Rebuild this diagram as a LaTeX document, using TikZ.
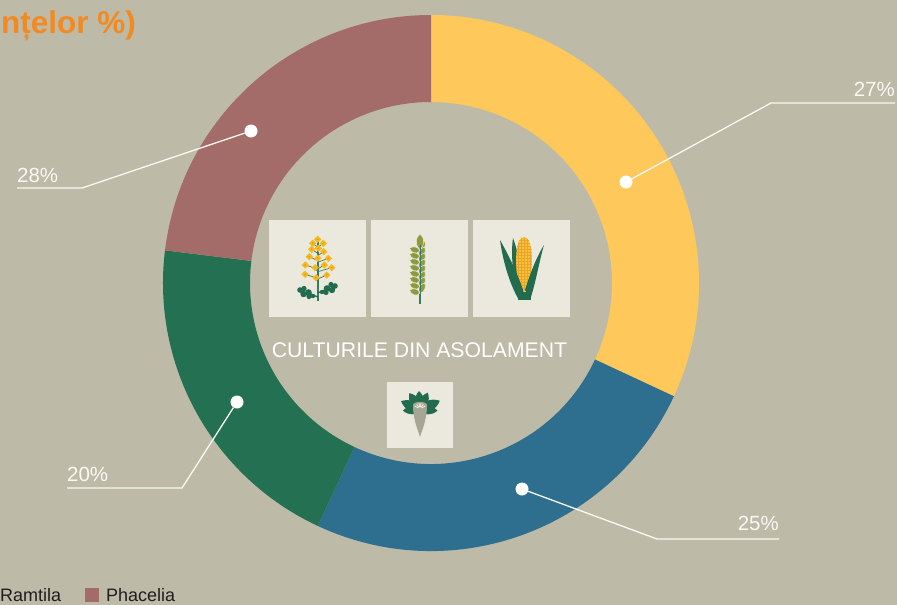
\documentclass[tikz,border=0pt]{standalone}
\usepackage{fontspec}
\setmainfont{Liberation Sans}
\definecolor{bgc}{HTML}{BDBAA7}
\definecolor{segY}{HTML}{FEC85B}
\definecolor{segB}{HTML}{2E6E8E}
\definecolor{segG}{HTML}{237152}
\definecolor{segR}{HTML}{A46C68}
\definecolor{boxc}{HTML}{EBE9DE}
\definecolor{orangec}{HTML}{F28A21}
\definecolor{txtw}{HTML}{FAF9F4}
\definecolor{legtxt}{HTML}{1E1E1E}
\definecolor{flw}{HTML}{F6B91E}
\definecolor{flwc}{HTML}{E89A14}
\definecolor{leafc}{HTML}{236B4E}
\definecolor{stemc}{HTML}{3A7A62}
\definecolor{wheatc}{HTML}{8D9B3C}
\definecolor{cornc}{HTML}{F9C13A}
\definecolor{cornl}{HTML}{E9A52A}
\definecolor{rootc}{HTML}{A7A593}
\tikzset{
  pct/.style={text=txtw, font=\fontsize{20.5}{24}\selectfont, inner sep=0pt},
  leader/.style={draw=txtw, line width=1.3pt},
  dotnode/.style={circle, fill=white, minimum size=13pt, inner sep=0pt},
  iconbox/.style={fill=boxc, draw=none, minimum width=97pt, minimum height=97pt, inner sep=0pt},
  legtext/.style={anchor=base west, inner sep=0pt, font=\fontsize{18}{22}\selectfont, text=legtxt},
  flower/.pic={\fill[flw] (-1.9,0) circle (1.8) (1.9,0) circle (1.8) (0,1.9) circle (1.8) (0,-1.9) circle (1.8);
               \fill[flwc] (0,0) circle (0.9);},
  grain/.pic={\fill[wheatc, draw=boxc, line width=0.6pt] (0,0) .. controls (0,6) and (6,7) .. (10,4.5) .. controls (8.5,0) and (3.5,-2.5) .. (0,0) -- cycle;},
  bleaf/.pic={\fill[leafc] (0,0) .. controls (4,6) and (13,6) .. (19,0) .. controls (13,-6) and (4,-6) .. (0,0) -- cycle;}
}
\newcommand\annseg[3]{\fill[#1] ([shift={(431,-283)}]#2:268) arc[start angle=#2,end angle=#3,radius=268]
  -- ([shift={(431,-283)}]#3:181) arc[start angle=#3,end angle=#2,radius=181] -- cycle;}
\begin{document}
\begin{tikzpicture}[x=1pt,y=1pt]
\fill[bgc] (0,0) rectangle (897,-605);
\useasboundingbox (0,0) rectangle (897,-605);
\clip (0,0) rectangle (897,-605);

% title fragment
\node[font=\fontsize{31.5}{36}\selectfont\bfseries, text=orangec, anchor=base east, inner sep=0pt] (title) at (136,-33) {nțelor \%)};

% ring
\annseg{segY}{90}{-25}
\annseg{segB}{335}{245}
\annseg{segG}{245}{173}
\annseg{segR}{173}{90}

% dots
\node[dotnode] (d27) at (626,-182) {};
\node[dotnode] (d28) at (251,-131) {};
\node[dotnode] (d20) at (237,-402) {};
\node[dotnode] (d25) at (522,-489) {};
\coordinate (e27) at (771,-103); \coordinate (h27) at (895,-103);
\coordinate (e28) at (82,-188);  \coordinate (h28) at (17,-188);
\coordinate (e20) at (182,-488); \coordinate (h20) at (67,-488);
\coordinate (e25) at (657,-539); \coordinate (h25) at (779,-539);
\draw[leader] (d27) -- (e27) -- (h27);
\draw[leader] (d28) -- (e28) -- (h28);
\draw[leader] (d20) -- (e20) -- (h20);
\draw[leader] (d25) -- (e25) -- (h25);
\node[pct, anchor=base east] (l27) at (895,-96) {27\%};
\node[pct, anchor=base west] (l28) at (17,-182) {28\%};
\node[pct, anchor=base west] (l20) at (67,-481) {20\%};
\node[pct, anchor=base east] (l25) at (779,-530) {25\%};

% centre
\node[iconbox] (b1) at (317.5,-268.5) {};
\node[iconbox] (b2) at (419.5,-268.5) {};
\node[iconbox] (b3) at (521.5,-268.5) {};
\node[iconbox, minimum width=66pt, minimum height=66pt] (b4) at (420,-415) {};
\node[text=white, font=\fontsize{21.2}{25}\selectfont, inner sep=0pt, anchor=base] (ct) at (419.5,-357.7) {CULTURILE DIN ASOLAMENT};

% rapeseed
\draw[stemc, line width=1.6pt] (317.7,-242) -- (317.7,-301);
\foreach \x/\y in {312.7/243.3,323.3/243.3,311.7/249.3,323.7/251.7,309.3/256.7,328.3/258.3,305.3/265,315/267.7,324.3/265,331.7/267.7,305/274.3,316/277.7,326.7/275}
  {\draw[stemc, line width=0.7pt] (317.7,-\y-4) -- (\x,-\y);}
\foreach \x/\y in {317.7/239.3,312.7/243.3,323.3/243.3,311.7/249.3,318.3/248.3,323.7/251.7,309.3/256.7,317.7/258.3,328.3/258.3,305.3/265,315/267.7,324.3/265,331.7/267.7,305/274.3,316/277.7,326.7/275}
  {\pic at (\x,-\y) {flower};}
\draw[leafc, line width=1.2pt] (317.7,-297) -- (309,-293) (317.7,-293) -- (327,-289);
\fill[leafc] (300,-290) circle (2.8) (304,-288.5) circle (2.6) (303.5,-294) circle (3.2) (308.5,-292.5) circle (3.3) (309,-296.5) circle (2.6) (313,-296) circle (2.2);
\fill[leafc] (335,-286) circle (2.8) (331,-284.5) circle (2.6) (332,-290) circle (3.2) (327,-288.5) circle (3.3) (326,-292.5) circle (2.6) (322,-292) circle (2.2);

% wheat
\draw[stemc, line width=1.3pt] (420,-240) -- (420,-304);
\foreach \i in {0,...,7} {
  \pic[rotate=140] at (420,-251-6*\i) {grain};
  \pic[rotate=40] at (420,-251-6*\i) {grain};
}
\fill[wheatc, draw=boxc, line width=0.5pt] (420,-234) .. controls (425,-238) and (425,-245) .. (420,-250) .. controls (415,-245) and (415,-238) .. (420,-234) -- cycle;
\draw[stemc, line width=1pt] (420,-245) -- (420,-296);

% corn
\fill[leafc] (518,-296) .. controls (512,-272) and (511,-252) .. (513,-238) .. controls (519,-255) and (523,-275) .. (525,-290) -- cycle;
\begin{scope}
\clip (524,-237) .. controls (532,-237) and (533,-258) .. (531,-275) -- (524,-292) -- (517,-275) .. controls (515,-258) and (516,-237) .. (524,-237) -- cycle;
\fill[cornc] (510,-230) rectangle (540,-295);
\foreach \k in {0,...,18} {\draw[cornl, line width=0.4pt] (510,-240-3*\k) -- (540,-240-3*\k);}
\foreach \k in {0,...,4} {\draw[cornl, line width=0.4pt] (518+3*\k,-230) -- (518+3*\k,-295);}
\end{scope}
\fill[leafc] (519,-300) .. controls (510,-285) and (503,-262) .. (500,-240) .. controls (508,-254) and (517,-272) .. (523,-290) -- cycle;
\fill[leafc] (530,-300) .. controls (536,-282) and (539,-262) .. (544,-245) .. controls (536,-258) and (530,-274) .. (525,-290) -- cycle;
\fill[leafc] (518,-292) rectangle (531,-300);

% beet
\foreach \a/\l in {122/1.05,66/1.0,155/1.1,25/1.15,182/0.9,-2/0.92,93/1.0}
  {\pic[rotate=\a, scale=\l] at (420,-410) {bleaf};}
\fill[rootc] (413,-405) .. controls (413,-401) and (427,-401) .. (427,-405) .. controls (427,-420) and (422,-430) .. (420,-437) .. controls (418,-430) and (413,-420) .. (413,-405) -- cycle;
\foreach \a in {30,55,80,100,125,150}
  {\draw[white, line width=0.6pt] ([shift={(420,-409)}]\a:2) -- ([shift={(420,-409)}]\a:6);}

% legend
\node[legtext] (lr) at (0,-601) {Ramtila};
\node[fill=segR, minimum size=14pt, inner sep=0pt, anchor=north west] (sq) at (85,-588) {};
\node[legtext] (lp) at (106,-601) {Phacelia};
\end{tikzpicture}
\end{document}
